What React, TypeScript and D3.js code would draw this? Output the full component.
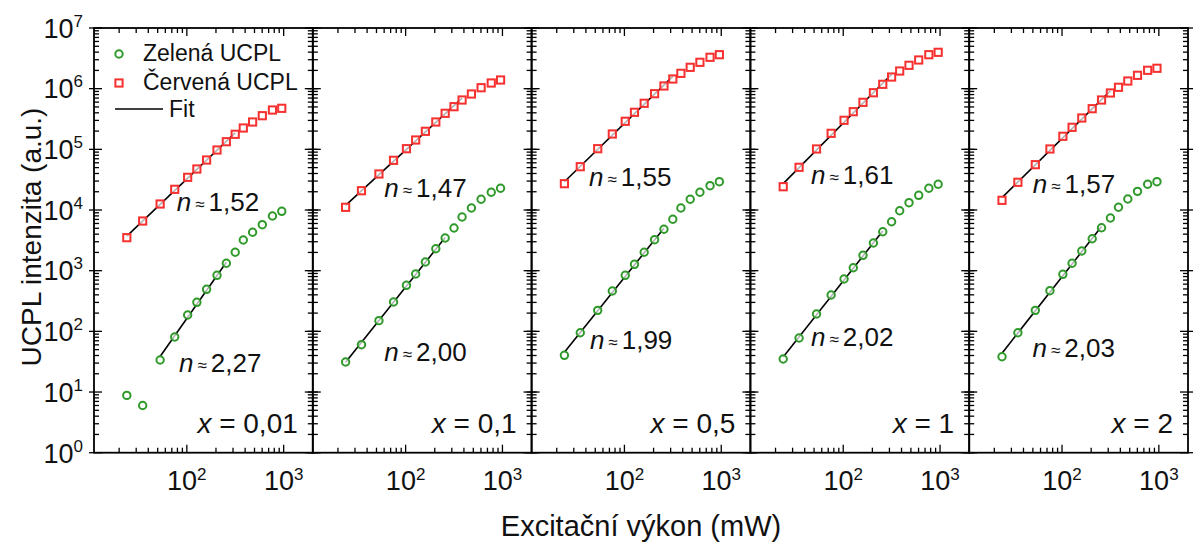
import React from 'react';
import * as d3 from 'd3';

// ---------- DATA ----------
const powers = [24, 35, 53, 75, 102, 127, 160, 205, 256, 316, 383, 478, 602, 766, 956];

const panelNames = ['0,01', '0,1', '0,5', '1', '2'];
const redN = ['1,52', '1,47', '1,55', '1,61', '1,57'];
const greenN = ['2,27', '2,00', '1,99', '2,02', '2,03'];

const red001 = [3500, 6590, 12560, 21940, 34580, 47420, 66700, 97500, 133600, 177000, 224800, 282300, 358400, 444900, 474500];
const green001 = [8.8, 6.0, 33.7, 80.7, 186, 301, 493, 839, 1324, 2010, 3206, 4293, 5728, 7967, 9520];
const red01 = [11090, 20800, 39260, 65960, 102500, 142600, 198200, 282300, 392600, 504700, 650600, 816600, 1037000, 1240000, 1390000];
const green01 = [31.3, 60.3, 150, 305, 574, 881, 1390, 2301, 3459, 5050, 7674, 10790, 15030, 19590, 22800];
const red05 = [27160, 51760, 102500, 179100, 290000, 408000, 574500, 826400, 1107000, 1443000, 1790000, 2248000, 2721000, 3289000, 3630000];
const green05 = [40.3, 95, 222, 462, 839, 1274, 2010, 3243, 4810, 7030, 10790, 15030, 19590, 25180, 29300];
const red1 = [24210, 50580, 101400, 183700, 301200, 417100, 595700, 857000, 1180000, 1556000, 1954000, 2427000, 2970000, 3630000, 3975000];
const green1 = [35, 77.6, 193, 397, 729, 1120, 1792, 2858, 4387, 6412, 9740, 13210, 17470, 22800, 26550];
const red2 = [14450, 28640, 55850, 101400, 164100, 230700, 328500, 467700, 650600, 849000, 1054000, 1337000, 1660000, 2009000, 2168000];
const green2 = [38.2, 95, 222, 468, 871, 1324, 2109, 3365, 5105, 7380, 11090, 15170, 20320, 26550, 29300];

const redSeries = [red001, red01, red05, red1, red2];
const greenSeries = [green001, green01, green05, green1, green2];

// index ranges (inclusive) used for the power-law fits
const redFitRange = [[0, 9], [0, 10], [0, 9], [0, 9], [0, 9]];
const greenFitRange = [[2, 8], [0, 8], [0, 8], [0, 8], [0, 8]];

const xDomain = [11, 2000];
const yDomain = [1, 1e7];
const xMajorExps = [2, 3];
const yMajorExps = [0, 1, 2, 3, 4, 5, 6, 7];

const legendLabels = ['Zelená UCPL', 'Červená UCPL', 'Fit'];
const xTitle = 'Excitační výkon (mW)';
const yTitle = 'UCPL intenzita (a.u.)';

// ---------- LAYOUT / STYLE ----------
const W = 1198, H = 545;
const plotLeft = 94, plotRight = 1188, plotTop = 28, plotBottom = 452.7;
const nPanels = 5;
const panelW = (plotRight - plotLeft) / nPanels;
const RED = '#f5302e';
const GREEN = '#2f9a2a';
const FONT = '"Liberation Sans", Arial, Helvetica, sans-serif';
// label positions: offset from panel left, baseline y
const redLabelPos = [[82.7, 211], [71.5, 197], [57.4, 186], [60.6, 184], [63.5, 193]];
const greenLabelPos = [[85, 371.5], [71.5, 361], [58.3, 348.5], [60.6, 346], [63.3, 357]];

const yScale = d3.scaleLog().domain(yDomain).range([plotBottom, plotTop]);

function fitLine(xs: number[], ys: number[], range: number[], n: number) {
  const lx = xs.slice(range[0], range[1] + 1).map(Math.log10);
  const ly = ys.slice(range[0], range[1] + 1).map(Math.log10);
  const mx = d3.mean(lx) as number;
  const my = d3.mean(ly) as number;
  const b = my - n * mx;
  const x0 = lx[0], x1 = lx[lx.length - 1];
  return [
    [Math.pow(10, x0), Math.pow(10, n * x0 + b)],
    [Math.pow(10, x1), Math.pow(10, n * x1 + b)],
  ];
}

const num = (s: string) => parseFloat(s.replace(',', '.'));

const SQ = 7.2;
const CR = 3.7;
const MSW = 2;

function NLabel({ x, y, value }: { x: number; y: number; value: string }) {
  return (
    <text x={x} y={y} fontFamily={FONT} fontSize={26} fill="#111">
      <tspan fontStyle="italic">n</tspan>
      <tspan fontSize={17} dx={4} dy={-1}>≈</tspan>
      <tspan dx={4} dy={1}>{value}</tspan>
    </text>
  );
}

function Panel({ k }: { k: number }) {
  const left = plotLeft + k * panelW;
  const right = left + panelW;
  const x = d3.scaleLog().domain(xDomain).range([left, right]);

  const xMinor: number[] = [];
  for (let e = 1; e <= 3; e++) {
    for (let m = 2; m <= 9; m++) {
      const v = m * Math.pow(10, e);
      if (v > xDomain[0] && v < xDomain[1]) xMinor.push(v);
    }
  }
  const xMajor = xMajorExps.map((e) => Math.pow(10, e));

  const yMinor: number[] = [];
  for (let e = 0; e < 7; e++) for (let m = 2; m <= 9; m++) yMinor.push(m * Math.pow(10, e));
  const yMajor = yMajorExps.map((e) => Math.pow(10, e));

  const red = redSeries[k];
  const green = greenSeries[k];
  const rf = fitLine(powers, red, redFitRange[k], num(redN[k]));
  const gf = fitLine(powers, green, greenFitRange[k], num(greenN[k]));
  const line = d3.line<number[]>().x((d) => x(d[0])).y((d) => yScale(d[1]));

  const majIn = 8, minIn = 5, majOut = 5;
  const tickStyle = { stroke: '#000', strokeWidth: 1.3 };

  return (
    <g>
      {xMinor.map((v, i) => (
        <g key={'xm' + i}>
          <line x1={x(v)} x2={x(v)} y1={plotBottom} y2={plotBottom - minIn} {...tickStyle} />
          <line x1={x(v)} x2={x(v)} y1={plotTop} y2={plotTop + minIn} {...tickStyle} />
        </g>
      ))}
      {xMajor.map((v, i) => (
        <g key={'xM' + i}>
          <line x1={x(v)} x2={x(v)} y1={plotBottom} y2={plotBottom - majIn} {...tickStyle} />
          <line x1={x(v)} x2={x(v)} y1={plotTop} y2={plotTop + majIn} {...tickStyle} />
          <text x={x(v)} y={489.5} textAnchor="middle" fontFamily={FONT} fontSize={27} fill="#111">
            <tspan>10</tspan>
            <tspan dy={-10} fontSize={17}>{Math.round(Math.log10(v))}</tspan>
          </text>
        </g>
      ))}
      {yMinor.map((v, i) => (
        <g key={'ym' + i}>
          <line x1={left} x2={left + minIn} y1={yScale(v)} y2={yScale(v)} {...tickStyle} />
          <line x1={right} x2={right - minIn} y1={yScale(v)} y2={yScale(v)} {...tickStyle} />
        </g>
      ))}
      {yMajor.map((v, i) => (
        <g key={'yM' + i}>
          <line x1={left - majOut} x2={left + majIn} y1={yScale(v)} y2={yScale(v)} {...tickStyle} />
          <line x1={right + majOut} x2={right - majIn} y1={yScale(v)} y2={yScale(v)} {...tickStyle} />
        </g>
      ))}
      <rect x={left} y={plotTop} width={panelW} height={plotBottom - plotTop} fill="none" stroke="#000" strokeWidth={1.8} />

      <path d={line(rf) as string} stroke="#000" strokeWidth={1.6} fill="none" />
      <path d={line(gf) as string} stroke="#000" strokeWidth={1.6} fill="none" />

      {red.map((v, i) => (
        <rect key={'r' + i} x={x(powers[i]) - SQ / 2} y={yScale(v) - SQ / 2} width={SQ} height={SQ}
          fill="#fff" fillOpacity={0.7} stroke={RED} strokeWidth={MSW} />
      ))}
      {green.map((v, i) => (
        <circle key={'g' + i} cx={x(powers[i])} cy={yScale(v)} r={CR}
          fill="#fff" fillOpacity={0.7} stroke={GREEN} strokeWidth={MSW} />
      ))}

      <NLabel x={left + redLabelPos[k][0]} y={redLabelPos[k][1]} value={redN[k]} />
      <NLabel x={left + greenLabelPos[k][0]} y={greenLabelPos[k][1]} value={greenN[k]} />

      <text x={right - 15} y={433} textAnchor="end" fontFamily={FONT} fontSize={28} fill="#111">
        <tspan fontStyle="italic">x</tspan>
        <tspan> = {panelNames[k]}</tspan>
      </text>
    </g>
  );
}

export default function App() {
  return (
    <svg width={W} height={H} style={{ position: 'absolute', left: 0, top: 0, background: '#fff' }}>
      <rect x={0} y={0} width={W} height={H} fill="#fff" />
      {d3.range(nPanels).map((k) => (
        <Panel key={k} k={k} />
      ))}
      {yMajorExps.map((e) => (
        <text key={'yl' + e} x={plotLeft - 11} y={yScale(Math.pow(10, e)) + 9.8} textAnchor="end"
          fontFamily={FONT} fontSize={27} fill="#111">
          <tspan>10</tspan>
          <tspan dy={-11} fontSize={17}>{e}</tspan>
        </text>
      ))}
      <circle cx={119} cy={54} r={CR} fill="#fff" stroke={GREEN} strokeWidth={MSW} />
      <text x={143} y={61} fontFamily={FONT} fontSize={23} fill="#111">{legendLabels[0]}</text>
      <rect x={119 - SQ / 2} y={83 - SQ / 2} width={SQ} height={SQ} fill="#fff" stroke={RED} strokeWidth={MSW} />
      <text x={143} y={89.5} fontFamily={FONT} fontSize={23} fill="#111">{legendLabels[1]}</text>
      <line x1={115} x2={163} y1={109} y2={109} stroke="#000" strokeWidth={1.6} />
      <text x={169} y={117} fontFamily={FONT} fontSize={23} fill="#111">{legendLabels[2]}</text>

      <text x={(plotLeft + plotRight) / 2} y={535.5} textAnchor="middle" fontFamily={FONT} fontSize={29} fill="#111">
        {xTitle}
      </text>
      <text transform={`translate(41, 237) rotate(-90)`} textAnchor="middle" fontFamily={FONT} fontSize={28} fill="#111">
        {yTitle}
      </text>
    </svg>
  );
}
